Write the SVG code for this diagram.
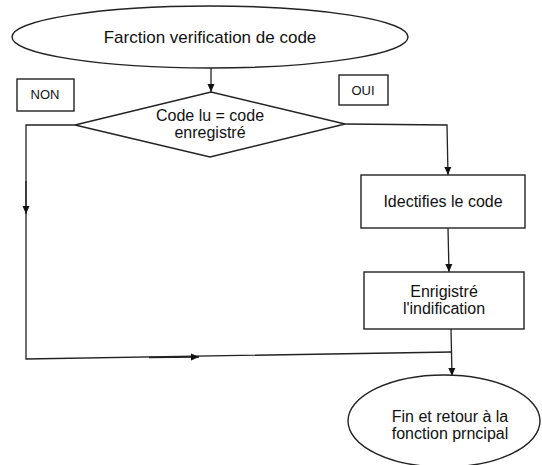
<svg xmlns="http://www.w3.org/2000/svg" width="542" height="465" viewBox="0 0 542 465">
<style>
.shape{fill:#fff;stroke:#222;stroke-width:1.4}
.line{fill:none;stroke:#222;stroke-width:1.3}
.t{font-family:"Liberation Sans",Arial,sans-serif;font-size:16px;fill:#111;text-anchor:middle}
.s{font-size:13px}
</style>
<defs>
<marker id="ah" markerWidth="8" markerHeight="8" refX="8" refY="4" orient="auto" markerUnits="userSpaceOnUse">
<path d="M0,0.5 L8,4 L0,7.5 Z" fill="#111"/>
</marker>
</defs>
<rect width="542" height="465" fill="#fff"/>
<g id="connectors">
<line class="line" x1="211" y1="68" x2="211" y2="92" marker-end="url(#ah)"/>
<polyline class="line" points="345,124 447,125 448,175" marker-end="url(#ah)"/>
<line class="line" x1="448" y1="228" x2="449" y2="272" marker-end="url(#ah)"/>
<polyline class="line" points="75,125 26,125 26,359 452,352"/>
<line class="line" x1="451" y1="329" x2="452" y2="376" marker-end="url(#ah)"/>
<line class="line" x1="26" y1="181" x2="26" y2="214" stroke-width="2" marker-end="url(#ah)"/>
<line class="line" x1="149" y1="357.5" x2="199" y2="357" stroke-width="2" marker-end="url(#ah)"/>
</g>
<g id="start">
<ellipse class="shape" cx="210" cy="37" rx="198" ry="31"/>
<text class="t" x="210" y="43" style="font-size:17px">Farction verification de code</text>
</g>
<g id="non">
<rect class="shape" x="17" y="79" width="57" height="32"/>
<text class="t s" x="45" y="99">NON</text>
</g>
<g id="oui">
<rect class="shape" x="339" y="75" width="49" height="30"/>
<text class="t s" x="363" y="95">OUI</text>
</g>
<g id="decision">
<polygon class="shape" points="75,125 211,92 345,124 210,157"/>
<text class="t" x="210" y="121">Code lu = code</text>
<text class="t" x="210" y="138">enregistré</text>
</g>
<g id="identify">
<rect class="shape" x="361" y="175" width="164" height="53"/>
<text class="t" x="443" y="207">Idectifies le code</text>
</g>
<g id="record">
<rect class="shape" x="364" y="272" width="160" height="57"/>
<text class="t" x="444" y="297">Enrigistré</text>
<text class="t" x="444" y="314">l'indification</text>
</g>
<g id="end">
<ellipse class="shape" cx="444" cy="421" rx="96" ry="46"/>
<text class="t" x="450" y="422">Fin et retour à la</text>
<text class="t" x="450" y="439">fonction prncipal</text>
</g>
</svg>
